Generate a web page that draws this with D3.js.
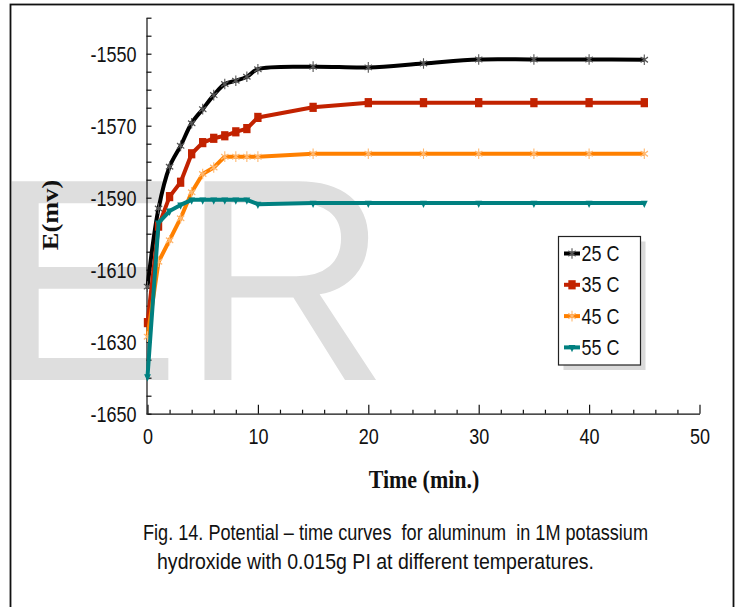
<!DOCTYPE html>
<html>
<head>
<meta charset="utf-8">
<script src="https://cdn.jsdelivr.net/npm/d3@7"></script>
<style>
  html, body { margin: 0; padding: 0; background: #fff; }
  svg { display: block; }
</style>
</head>
<body>
<div id="chart"></div>
<script>
// Data (E in mV vs time in min)
const times = [0, 1, 2, 3, 4, 5, 6, 7, 8, 9, 10, 15, 20, 25, 30, 35, 40, 45];
const e25 = [-1614.7, -1593, -1581.4, -1575.6, -1569.3, -1565.4, -1561.5, -1558.4, -1557.5, -1556.4, -1554.3, -1553.6, -1553.8, -1552.7, -1551.6, -1551.6, -1551.6, -1551.7];
const e35 = [-1624.7, -1597.9, -1589.7, -1585.7, -1577.8, -1574.7, -1573.5, -1572.8, -1571.7, -1570.8, -1567.7, -1564.9, -1563.6, -1563.6, -1563.6, -1563.6, -1563.6, -1563.6];
const e45 = [-1628.6, -1607.8, -1601.8, -1595.7, -1588.5, -1583.4, -1581.6, -1578.6, -1578.6, -1578.6, -1578.6, -1577.8, -1577.8, -1577.8, -1577.8, -1577.8, -1577.8, -1577.8];
const e55 = [-1639.7, -1597, -1593.7, -1592, -1590.6, -1590.6, -1590.6, -1590.6, -1590.6, -1590.6, -1591.8, -1591.5, -1591.5, -1591.5, -1591.5, -1591.5, -1591.5, -1591.5];
const seriesNames = ["25 C", "35 C", "45 C", "55 C"];
const xTicks = d3.range(0, 51, 2);
const yTicks = d3.range(-1650, -1539, 5);
const caption = [
  "Fig. 14. Potential \u2013 time curves  for aluminum  in 1M potassium",
  "hydroxide with 0.015g PI at different temperatures."
];

const width = 741;
const height = 607;
const stretch = 1.2; // the picture's text is a bit tall and narrow
const sans = "'Liberation Sans', Arial, sans-serif";
const serif = "'Liberation Serif', 'Times New Roman', serif";

const svg = d3.select("#chart").append("svg")
    .attr("width", width)
    .attr("height", height)
    .attr("viewBox", [0, 0, width, height]);

// faint watermark behind the chart
svg.append("text")
    .attr("x", -12)
    .attr("y", 380)
    .attr("font-family", sans)
    .attr("font-size", 289)
    .attr("fill", "#dedede")
    .text("ER");

// frame
svg.append("rect")
    .attr("x", 10.5).attr("y", 4.5)
    .attr("width", 723).attr("height", 640)
    .attr("fill", "none")
    .attr("stroke", "#111")
    .attr("stroke-width", 1.8);

const x = d3.scaleLinear([0, 50], [147.5, 699.5]);
const y = d3.scaleLinear([-1650, -1540], [413.7, 17.7]);

// x axis, ticks pointing up, longer every 10
const gx = svg.append("g")
    .attr("transform", `translate(0,${y(-1650)})`)
    .call(d3.axisBottom(x).tickValues(xTicks).tickSizeInner(-4).tickSizeOuter(0)
        .tickFormat(d => d % 10 === 0 ? String(d) : ""));
gx.selectAll(".tick line").attr("y2", d => d % 10 === 0 ? -9 : -4);
gx.selectAll(".tick text")
    .attr("y", 0).attr("dy", null)
    .attr("transform", `translate(0,30.5) scale(1,${stretch})`)
    .attr("font-family", sans).attr("font-size", 18).attr("fill", "#111");

// y axis, ticks pointing right
const gy = svg.append("g")
    .attr("transform", `translate(${x(0) - 1},0)`)
    .call(d3.axisLeft(y).tickValues(yTicks).tickSizeInner(-5).tickSizeOuter(0)
        .tickFormat(d => (d + 1650) % 20 === 0 ? String(d) : ""));
gy.selectAll(".tick text")
    .attr("x", 0).attr("dy", null)
    .attr("transform", `translate(-10,7.6) scale(1,${stretch})`)
    .attr("font-family", sans).attr("font-size", 18).attr("fill", "#111");
svg.selectAll(".domain, .tick line").attr("stroke", "#111").attr("stroke-width", 1.2);

// axis titles
svg.append("text")
    .attr("transform", `translate(424,488) scale(1,1.1)`)
    .attr("text-anchor", "middle")
    .attr("font-family", serif).attr("font-weight", "bold").attr("font-size", 22)
    .attr("fill", "#111")
    .text("Time (min.)");
svg.append("text")
    .attr("transform", `translate(58,215) rotate(-90) scale(${stretch},1.05)`)
    .attr("text-anchor", "middle")
    .attr("font-family", serif).attr("font-weight", "bold").attr("font-size", 22)
    .attr("fill", "#111")
    .text("E(mv)");

// series
const asterisk = d3.symbolAsterisk || d3.symbolCross;
const series = [
  {name: seriesNames[0], values: e25, color: "#000000", curve: d3.curveCatmullRom,
   symbol: asterisk, size: 50, mfill: "none", mstroke: "#555", rot: 0},
  {name: seriesNames[1], values: e35, color: "#c22200", curve: d3.curveLinear,
   symbol: d3.symbolSquare, size: 54, mfill: "#c22200", mstroke: "none", rot: 0},
  {name: seriesNames[2], values: e45, color: "#ff8000", curve: d3.curveLinear,
   symbol: asterisk, size: 50, mfill: "none", mstroke: "#ffb870", rot: 0},
  {name: seriesNames[3], values: e55, color: "#008080", curve: d3.curveLinear,
   symbol: d3.symbolTriangle, size: 20, mfill: "#008080", mstroke: "none", rot: 180}
];

const plot = svg.append("g");
series.forEach(s => {
  const pts = times.map((t, i) => [t, s.values[i]]);
  const line = d3.line().x(d => x(d[0])).y(d => y(d[1])).curve(s.curve);
  plot.append("path")
      .attr("d", line(pts))
      .attr("fill", "none")
      .attr("stroke", s.color)
      .attr("stroke-width", 4)
      .attr("stroke-linejoin", "round");
  plot.append("g").selectAll("path")
    .data(pts)
    .join("path")
      .attr("d", d3.symbol(s.symbol, s.size))
      .attr("transform", d => `translate(${x(d[0])},${y(d[1])}) scale(1,1.25) rotate(${s.rot})`)
      .attr("fill", s.mfill)
      .attr("stroke", s.mstroke)
      .attr("stroke-width", 1.1);
});

// legend with drop shadow
const legend = svg.append("g").attr("transform", "translate(558.5,236.5)");
legend.append("rect")
    .attr("x", 5).attr("y", 5).attr("width", 82).attr("height", 128.5)
    .attr("fill", "#dadada");
legend.append("rect")
    .attr("width", 82).attr("height", 128.5)
    .attr("fill", "#fff").attr("stroke", "#222").attr("stroke-width", 1.2);
const row = legend.selectAll("g.row")
  .data(series)
  .join("g")
    .attr("class", "row")
    .attr("transform", (d, i) => `translate(0,${17 + i * 31.3})`);
row.append("line")
    .attr("x1", 5.5).attr("x2", 21.5)
    .attr("stroke", d => d.color).attr("stroke-width", 4);
row.append("path")
    .attr("d", d => d3.symbol(d.symbol, d.size)())
    .attr("transform", d => `translate(13.5,0) scale(1,1.25) rotate(${d.rot})`)
    .attr("fill", d => d.mfill)
    .attr("stroke", d => d.mstroke)
    .attr("stroke-width", 1.1);
row.append("text")
    .attr("transform", `translate(23,7.6) scale(1,${stretch})`)
    .attr("font-family", sans).attr("font-size", 18).attr("fill", "#111")
    .text(d => d.name);

// caption, two centred lines fitted to the widths in the figure
const captionWidth = [505, 437];
svg.append("g").selectAll("text")
  .data(caption)
  .join("text")
    .attr("transform", (d, i) => `translate(${i === 0 ? 395.5 : 375.5},${540 + i * 29}) scale(1,${stretch})`)
    .attr("text-anchor", "middle")
    .attr("font-family", sans).attr("font-size", 19).attr("fill", "#111")
    .attr("textLength", (d, i) => captionWidth[i])
    .attr("lengthAdjust", "spacingAndGlyphs")
    .style("white-space", "pre")
    .text(d => d);
</script>
</body>
</html>
